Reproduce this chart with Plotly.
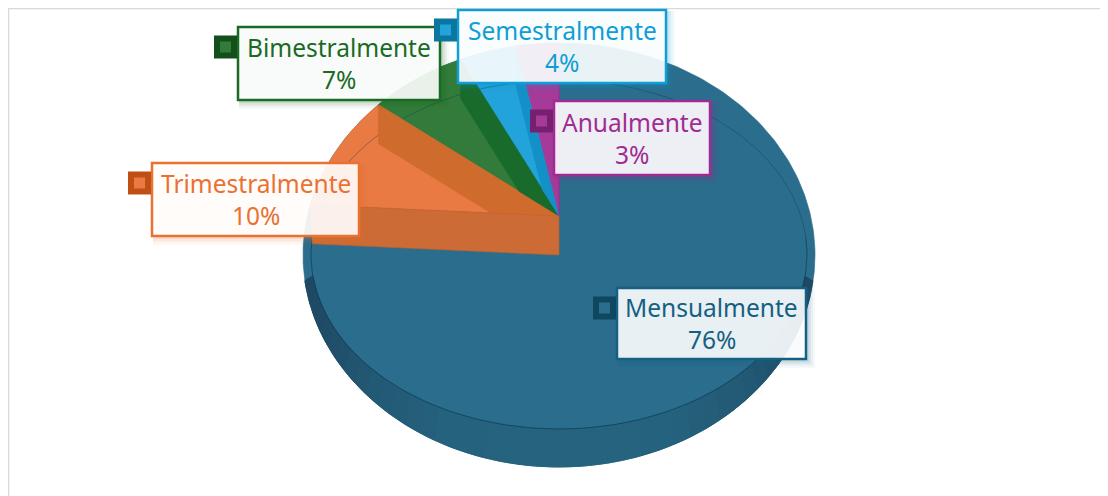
import numpy as np
import plotly.graph_objects as go

# Data
categorias = ['Mensualmente', 'Trimestralmente', 'Bimestralmente', 'Semestralmente', 'Anualmente']
porcentajes = [76, 10, 7, 4, 3]

# Styles, same order as categorias
text_colors = ['#156082', '#E97132', '#196B24', '#0F9ED5', '#A02B93']
face_colors = ['#2A6D8C', '#E97A43', '#327B3A', '#22A3D9', '#A53A98']
wall_colors = ['#26647F', '#D06B2E', '#196B2B', '#1490C8', '#A02B93']
key_colors = ['#0F4761', '#C04F15', '#124F1A', '#0B76A0', '#782070']
boxes = [(617, 288, 806, 359), (152, 163, 359, 236), (238, 27, 440, 100),
         (458, 10, 666, 83), (554, 101, 710, 175)]

# Tilted disc, seen with some perspective
CX, CY = 559, 216
RX, RY = 254.6, 191
K = 0.1036
DEPTH = 39
# outline of the whole disc and the inner edge line
OUT_CY, OUT_RX, OUT_RY = 255, 256, 212
IN_CY, IN_RX, IN_RY = 254.5, 248, 174.5


def outer(phi):
    t = np.radians(phi)
    return CX + OUT_RX * np.cos(t), OUT_CY + OUT_RY * np.sin(t)


def inner(phi):
    t = np.radians(phi)
    return CX + IN_RX * np.cos(t), IN_CY + IN_RY * np.sin(t)


def project(theta):
    """theta in degrees, clockwise from 12 o'clock. Kept inside the outline"""
    t = np.radians(theta)
    u, v = np.sin(t), np.cos(t)
    f = 1 / (1 + K * v)
    x, y = CX + RX * u * f, CY - RY * v * f
    d = np.sqrt(((x - CX) / OUT_RX) ** 2 + ((y - OUT_CY) / OUT_RY) ** 2)
    d = np.maximum(d, 1)
    return CX + (x - CX) / d, OUT_CY + (y - OUT_CY) / d


def arc(a, b, step=1.0):
    n = max(int(abs(b - a) / step), 2)
    return project(np.linspace(a, b, n))


def intersect(p1, p2, p3, p4):
    """Crossing of the lines p1-p2 and p3-p4"""
    d1, d2 = np.subtract(p2, p1), np.subtract(p4, p3)
    cross = d1[0] * d2[1] - d1[1] * d2[0]
    w = np.subtract(p3, p1)
    s = (w[0] * d2[1] - w[1] * d2[0]) / cross
    return p1[0] + s * d1[0], p1[1] + s * d1[1]


def poly(fig, xs, ys, color, line=None):
    fig.add_trace(go.Scatter(x=list(xs), y=list(ys), mode='lines', fill='toself',
                             fillcolor=color, hoverinfo='skip',
                             line={'color': line or color, 'width': 0.6}))


fig = go.Figure()

fin = np.cumsum(porcentajes) * 3.6
ini = np.concatenate([[0], fin[:-1]])

# Whole disc in the colour of the big slice
xo, yo = outer(np.linspace(0, 360, 361))
poly(fig, xo, yo, face_colors[0])

# Front side of the disc, darker towards the edges. Pieces overlap so no seams show
PHI_0, PHI_1 = 7, 173
bordes = np.arange(PHI_0, PHI_1, 4)
for a in bordes:
    b = min(a + 8, PHI_1)
    ph = np.linspace(a, b, 9)
    xo, yo = outer(ph)
    xi, yi = inner(ph)
    oscuro = np.interp(abs(np.cos(np.radians(a + 2))), [0, 0.45, 0.75, 1], [0, 0.05, 0.4, 1])
    c = [int(38 - 8 * oscuro), int(100 - 28 * oscuro), int(127 - 28 * oscuro)]
    poly(fig, np.r_[xo, xi[::-1]], np.r_[yo, yi[::-1]], f'rgb({c[0]},{c[1]},{c[2]})')

# Faces of the small slices
for i in range(1, len(porcentajes)):
    xa, ya = arc(ini[i], fin[i])
    poly(fig, np.r_[CX, xa, CX], np.r_[CY, ya, CY], face_colors[i])

# Inner edge line, faint at the back and stronger at the front
xa, ya = inner(np.linspace(186, 354, 120))
fig.add_trace(go.Scatter(x=xa, y=ya, mode='lines', hoverinfo='skip',
                         line={'color': 'rgba(15,60,85,0.4)', 'width': 1}))
xa, ya = inner(np.linspace(-6, 186, 120))
fig.add_trace(go.Scatter(x=xa, y=ya, mode='lines', hoverinfo='skip',
                         line={'color': 'rgba(15,60,85,0.7)', 'width': 1}))

# Inner walls of the small slices, clipped to their own face
for i in range(1, len(porcentajes)):
    ex, ey = project(fin[i])
    sx, sy = project(ini[i])
    cx, cy = intersect((CX, CY + DEPTH), (ex, ey + DEPTH), (CX, CY), (sx, sy))
    poly(fig, [CX, ex, ex, cx, CX], [CY, ey, ey + DEPTH, cy, CY], wall_colors[i])

# Front wall of the Trimestralmente slice hangs over the big slice
sx, sy = project(ini[1])
poly(fig, [CX, sx, sx + 2, CX, CX], [CY, sy, sy + DEPTH, CY + DEPTH, CY], '#CC6B35', '#C8602A')

# Frame, label boxes, keys and label text
shapes = [
    {'type': 'line', 'x0': 8.5, 'x1': 8.5, 'y0': 8, 'y1': 496, 'line': {'color': '#D9D9D9', 'width': 1.5}},
    {'type': 'line', 'x0': 8, 'x1': 1108, 'y0': 8.5, 'y1': 8.5, 'line': {'color': '#D9D9D9', 'width': 1.5}},
]
annotations = []
for i, (x0, y0, x1, y1) in enumerate(boxes):
    # soft shadow in the colour of the label
    for off, alpha in [(9, 0.04), (7, 0.06), (5, 0.08), (3, 0.1)]:
        r, g, b = int(text_colors[i][1:3], 16), int(text_colors[i][3:5], 16), int(text_colors[i][5:7], 16)
        shapes.append({'type': 'rect', 'x0': x0 + 1, 'x1': x1 + off, 'y0': y0 + 1, 'y1': y1 + off,
                       'line': {'width': 0}, 'fillcolor': f'rgba({r},{g},{b},{alpha})'})
    shapes.append({'type': 'rect', 'x0': x0, 'x1': x1, 'y0': y0, 'y1': y1,
                   'line': {'color': text_colors[i], 'width': 2.5},
                   'fillcolor': 'rgba(255,255,255,0.9)'})
    # key square on the left side of the box
    ky = y0 + 20
    shapes.append({'type': 'rect', 'x0': x0 - 24, 'x1': x0 - 1, 'y0': ky - 11.5, 'y1': ky + 11.5,
                   'line': {'width': 0}, 'fillcolor': key_colors[i]})
    shapes.append({'type': 'rect', 'x0': x0 - 18, 'x1': x0 - 7, 'y0': ky - 5.5, 'y1': ky + 5.5,
                   'line': {'width': 0}, 'fillcolor': face_colors[i]})
    xm, ym = (x0 + x1) / 2, (y0 + y1) / 2
    annotations.append({'x': xm, 'y': ym - 16, 'text': categorias[i], 'showarrow': False,
                        'font': {'family': 'Noto Sans', 'size': 24.5, 'color': text_colors[i]}})
    annotations.append({'x': xm, 'y': ym + 16, 'text': f'{porcentajes[i]}%', 'showarrow': False,
                        'font': {'family': 'Noto Sans', 'size': 24.5, 'color': text_colors[i]}})

# The page has an 8px body margin, so the plot is 8px smaller and the axes start at 8
fig.update_layout(
    width=1100, height=488,
    margin={'l': 0, 'r': 0, 't': 0, 'b': 0},
    paper_bgcolor='white', plot_bgcolor='white',
    showlegend=False,
    shapes=shapes,
    annotations=annotations,
    xaxis={'range': [8, 1108], 'visible': False, 'fixedrange': True},
    yaxis={'range': [496, 8], 'visible': False, 'fixedrange': True},
)

fig.write_html("out.html")
